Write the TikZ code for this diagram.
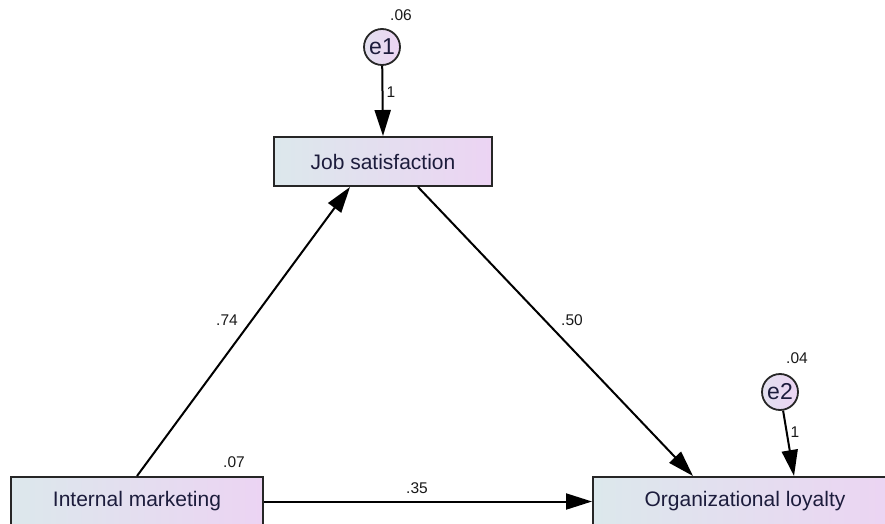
\documentclass[tikz,border=0pt]{standalone}
\usepackage{fontspec}
\setmainfont{Liberation Sans}
\usetikzlibrary{arrows.meta,calc}
\definecolor{lft}{HTML}{DCE8EC}
\definecolor{rgt}{HTML}{ECD4F3}
\definecolor{txt}{HTML}{1C1C3C}
\tikzset{
  var/.style={draw=black!85, line width=2pt, left color=lft, right color=rgt, font=\fontsize{21}{24}\selectfont, text=txt, minimum height=49pt, inner sep=0pt},
  err/.style={circle, draw=black!85, line width=1.8pt, left color=lft!60!rgt, right color=rgt, minimum size=36pt, inner sep=0pt, font=\fontsize{23}{24}\selectfont, text=txt},
  path/.style={line width=2pt, -{Triangle[length=26pt,width=16pt]}},
  lab/.style={font=\fontsize{15.5}{18}\selectfont, text=black!90, inner sep=0pt}
}
\begin{document}
\begin{tikzpicture}[x=1pt,y=-1pt]
\useasboundingbox (0,0) rectangle (885,524);
\clip (0,0) rectangle (885,524);
\node[var, minimum width=218pt] (js) at (383,161.5) {Job satisfaction};
\node[var, minimum width=252pt] (im) at (137,501.5) {Internal marketing};
\node[var, minimum width=304pt] (ol) at (745,501.5) {Organizational loyalty};
\node[err] (e1) at (382,47) {e1};
\node[err] (e2) at (780,392) {e2};
\draw[path] (e1) -- (js.north);
\draw[path] (e2) -- ($(ol.north)+(49,0)$);
\draw[path] (im.north) -- ($(js.south)+(-33,0)$);
\draw[path] ($(js.south)+(35,0)$) -- ($(ol.north)+(-52,0)$);
\draw[path] (im.east) -- (ol.west);
\node[lab] (l06) at (401,15) {.06};
\node[lab] (l1a) at (391,92) {1};
\node[lab] (l04) at (797,358) {.04};
\node[lab] (l1b) at (795,432) {1};
\node[lab] (l07) at (234,462) {.07};
\node[lab] (l74) at (227,320) {.74};
\node[lab] (l50) at (572,320) {.50};
\node[lab] (l35) at (417,488) {.35};
\end{tikzpicture}
\end{document}
